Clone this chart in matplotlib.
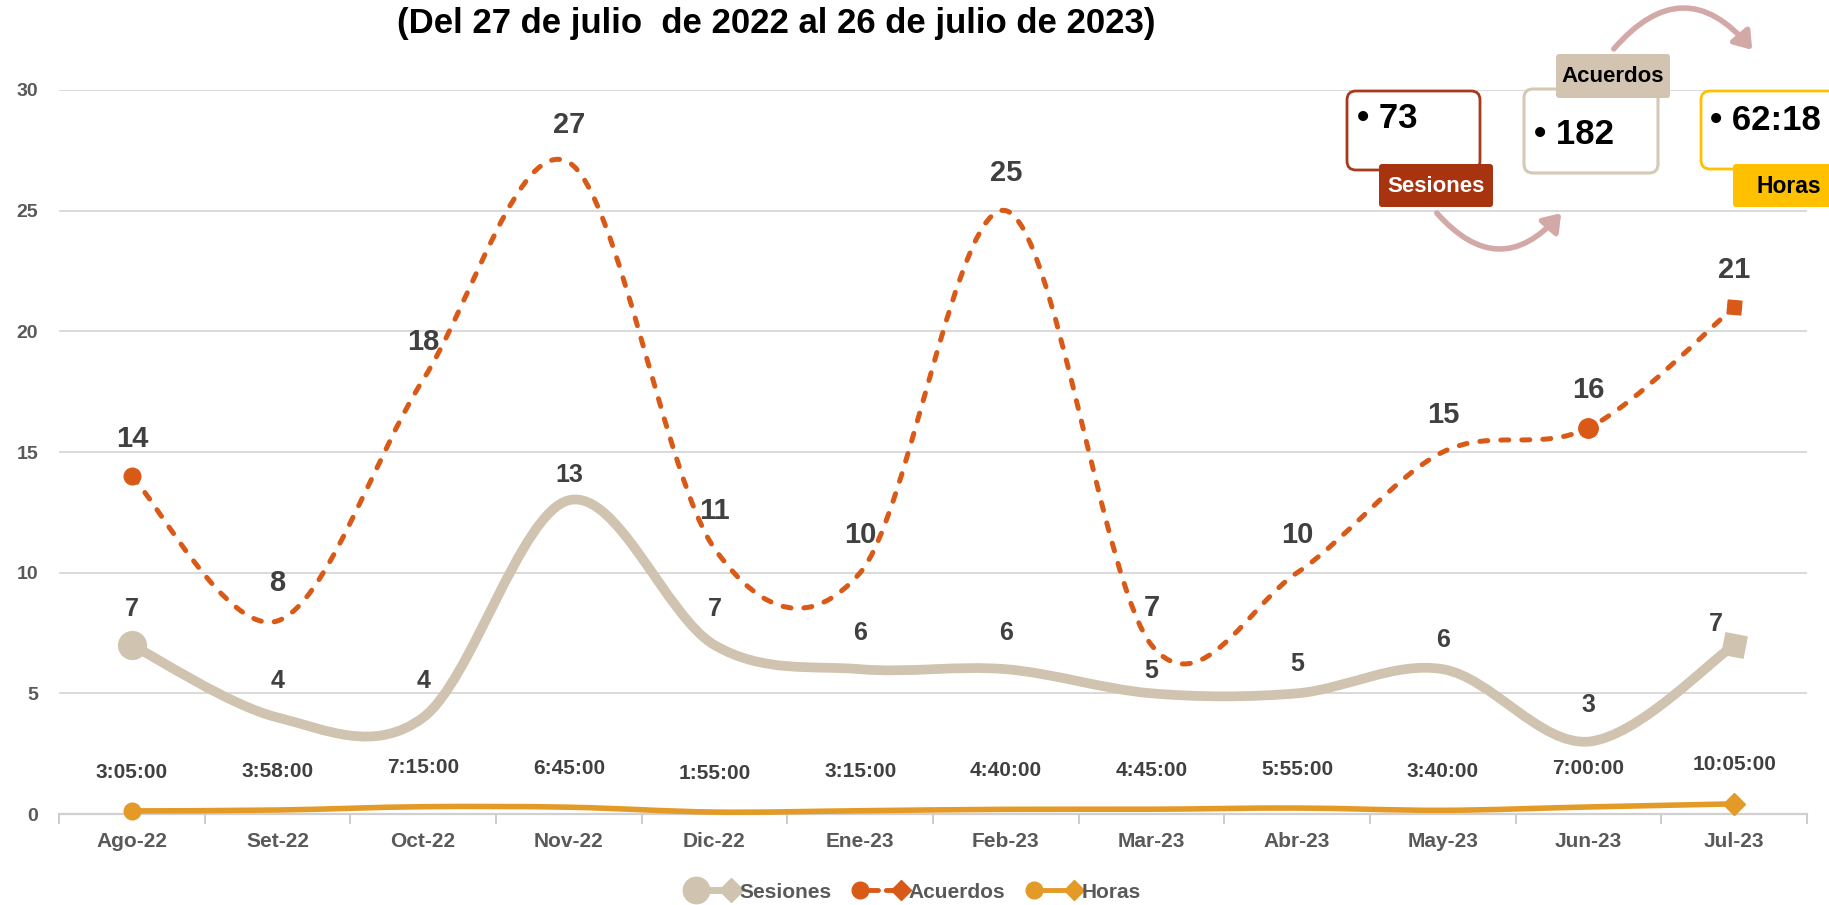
import matplotlib
matplotlib.use("Agg")
import matplotlib.pyplot as plt
import numpy as np
from matplotlib.path import Path
from matplotlib.patches import PathPatch, FancyBboxPatch, FancyArrowPatch
from matplotlib.lines import Line2D
from matplotlib.legend_handler import HandlerBase

# datos
meses = ["Ago-22", "Set-22", "Oct-22", "Nov-22", "Dic-22", "Ene-23",
         "Feb-23", "Mar-23", "Abr-23", "May-23", "Jun-23", "Jul-23"]
sesiones = [7, 4, 4, 13, 7, 6, 6, 5, 5, 6, 3, 7]
acuerdos = [14, 8, 18, 27, 11, 10, 25, 7, 10, 15, 16, 21]
horas = ["3:05:00", "3:58:00", "7:15:00", "6:45:00", "1:55:00", "3:15:00",
         "4:40:00", "4:45:00", "5:55:00", "3:40:00", "7:00:00", "10:05:00"]
y_ticks = [0, 5, 10, 15, 20, 25, 30]
titulo = "(Del 27 de julio  de 2022 al 26 de julio de 2023)"

# colores
C_SES = "#D0C3AF"
C_ACU = "#D95A17"
C_HOR = "#E49A26"
C_TXT = "#404040"
C_EJE = "#595959"

plt.rcParams['font.family'] = ['Liberation Sans', 'DejaVu Sans']
plt.rcParams['font.weight'] = 'bold'


def minutos(t):
    h, m, s = (int(p) for p in t.split(":"))
    return h * 60 + m + s / 60


# horas en fraccion de dia (como Excel)
horas_dias = [minutos(t) / (24 * 60) for t in horas]
tot_min = int(sum(minutos(t) for t in horas))
total_horas = "%d:%02d" % (tot_min // 60, tot_min % 60)


def curva_suave(xs, ys):
    # suavizado tipo Excel (Catmull-Rom como Bezier)
    pts = np.column_stack([xs, ys]).astype(float)
    n = len(pts)
    verts = [pts[0]]
    codes = [Path.MOVETO]
    for i in range(n - 1):
        p0 = pts[max(i - 1, 0)]
        p1 = pts[i]
        p2 = pts[i + 1]
        p3 = pts[min(i + 2, n - 1)]
        verts += [p1 + (p2 - p0) / 6, p2 - (p3 - p1) / 6, p2]
        codes += [Path.CURVE4] * 3
    return Path(verts, codes)


W, H = 1829, 905
fig = plt.figure(figsize=(W / 100, H / 100), dpi=100)
ax = fig.add_axes([59 / W, 1 - 814 / H, 1748 / W, 724 / H])

x = np.arange(len(meses))

ax.add_patch(PathPatch(curva_suave(x, sesiones), fill=False, edgecolor=C_SES,
                       lw=7, capstyle='butt', joinstyle='round', zorder=3))
ax.add_patch(PathPatch(curva_suave(x, acuerdos), fill=False, edgecolor=C_ACU,
                       lw=3.6, linestyle=(0, (1.6, 2.6)), capstyle='round', zorder=4))
ax.add_patch(PathPatch(curva_suave(x, horas_dias), fill=False, edgecolor=C_HOR,
                       lw=4, capstyle='butt', zorder=4, clip_on=False))

# marcadores de inicio / fin
ax.plot(x[0], sesiones[0], 'o', ms=20, color=C_SES, zorder=3)
ax.plot(x[-1], sesiones[-1], marker=(4, 0, 34), ms=22, color=C_SES, zorder=3)
ax.plot(x[0], acuerdos[0], 'o', ms=12, color=C_ACU, zorder=4)
ax.plot(x[10], acuerdos[10], 'o', ms=14, color=C_ACU, zorder=4)
ax.plot(x[-1], acuerdos[-1], marker=(4, 0, 40), ms=14, color=C_ACU, zorder=4)
ax.plot(x[0], horas_dias[0], 'o', ms=12, color=C_HOR, zorder=4, clip_on=False)
ax.plot(x[-1], horas_dias[-1], 'D', ms=11, color=C_HOR, zorder=4, clip_on=False)

# etiquetas de datos
for i, v in enumerate(acuerdos):
    ax.annotate(str(v), (x[i], v), xytext=(0, 27), textcoords='offset points',
                ha='center', va='center', fontsize=21, color=C_TXT, zorder=6)

off_ses = [(0, 26), (0, 26), (0, 26), (0, 18), (0, 26), (0, 26),
           (0, 26), (0, 16), (0, 21), (0, 21), (0, 26), (-13, 15)]
for i, v in enumerate(sesiones):
    ax.annotate(str(v), (x[i], v), xytext=off_ses[i], textcoords='offset points',
                ha='center', va='center', fontsize=18, color=C_TXT, zorder=6)

for i, v in enumerate(horas_dias):
    ax.annotate(horas[i], (x[i], v), xytext=(0, 28), textcoords='offset points',
                ha='center', va='center', fontsize=15, color=C_TXT, zorder=6)

# ejes
ax.set_xlim(-0.5, len(meses) - 0.5)
ax.set_ylim(0, 30)
ax.set_yticks(y_ticks)
ax.set_yticklabels([str(t) for t in y_ticks], fontsize=14, color=C_EJE,
                   fontweight='bold')
ax.set_xticks(x)
ax.set_xticklabels(meses, fontsize=15, color=C_EJE, fontweight='bold')
ax.set_xticks(np.arange(-0.5, len(meses)), minor=True)
ax.tick_params(axis='x', which='major', length=0, pad=13)
ax.tick_params(axis='x', which='minor', length=7, width=1.3, color='#C8C8C8')
ax.tick_params(axis='y', length=0, pad=15)
ax.grid(axis='y', color='#D9D9D9', lw=1.4)
ax.set_axisbelow(True)
for s in ['top', 'right', 'left']:
    ax.spines[s].set_visible(False)
ax.spines['bottom'].set_color('#D0D0D0')
ax.spines['bottom'].set_linewidth(1.6)

fig.text(776 / W, 1 - 33 / H, titulo, ha='center', va='baseline',
         fontsize=25, color='black')


# leyenda: circulo al inicio, diamante al final
class InicioFin(HandlerBase):
    def __init__(self, ms_ini, ms_fin, **kw):
        super().__init__(**kw)
        self.ms_ini = ms_ini
        self.ms_fin = ms_fin

    def create_artists(self, legend, orig, xdescent, ydescent, width, height,
                       fontsize, trans):
        y = height / 2 - ydescent
        x0 = -xdescent + self.ms_ini * 0.5
        x1 = width - xdescent - 4
        linea = Line2D([x0, x1], [y, y], color=orig.get_color(),
                       lw=orig.get_linewidth(), ls=orig.get_linestyle(),
                       dash_capstyle='round')
        ini = Line2D([x0], [y], marker='o', ms=self.ms_ini, color=orig.get_color(), ls='none')
        fin = Line2D([x1], [y], marker='D', ms=self.ms_fin, color=orig.get_color(), ls='none')
        for a in (linea, ini, fin):
            a.set_transform(trans)
        return [linea, ini, fin]


h_ses = Line2D([], [], color=C_SES, lw=5)
h_acu = Line2D([], [], color=C_ACU, lw=3.5, ls=(0, (1.6, 2.6)))
h_hor = Line2D([], [], color=C_HOR, lw=3.5)
fig.legend([h_ses, h_acu, h_hor], ["Sesiones", "Acuerdos", "Horas"],
           handler_map={h_ses: InicioFin(19, 12), h_acu: InicioFin(12, 10),
                        h_hor: InicioFin(12, 10)},
           loc='center', bbox_to_anchor=(912 / W, 1 - 892 / H), ncol=3,
           frameon=False, fontsize=15, handlelength=2.6, handletextpad=0.1,
           columnspacing=1.0, labelcolor=C_EJE)

# cuadro resumen (arriba a la derecha)
tr = fig.dpi_scale_trans


def caja(x0, y0, x1, y1, fc, ec, lw, r):
    p = FancyBboxPatch((x0 / 100, (H - y1) / 100), (x1 - x0) / 100, (y1 - y0) / 100,
                       boxstyle="round,pad=0,rounding_size=%f" % (r / 100),
                       fc=fc, ec=ec, lw=lw, transform=tr, zorder=5)
    fig.patches.append(p)


def texto(xp, yp, s, **kw):
    fig.text(xp / 100, (H - yp) / 100, s, transform=tr, va='center', zorder=7, **kw)


caja(1347, 91, 1480, 170, 'white', '#A8391D', 2, 9)
caja(1524, 89, 1658, 173, 'white', '#D5C9B6', 2.2, 9)
caja(1701, 91, 1850, 169, 'white', '#FFC000', 2, 9)
caja(1379, 164, 1493, 207, '#A8330F', 'none', 0, 3)
caja(1556, 54, 1670, 98, '#D2C4B0', 'none', 0, 3)
caja(1733, 164, 1850, 207, '#FFC000', 'none', 0, 3)

texto(1357, 118, "\u2022 %d" % sum(sesiones), fontsize=25, color='black', ha='left')
texto(1534, 134, "\u2022 %d" % sum(acuerdos), fontsize=25, color='black', ha='left')
texto(1710, 120, "\u2022 " + total_horas, fontsize=25, color='black', ha='left')
texto(1436, 186, "Sesiones", fontsize=16, color='white', ha='center')
texto(1613, 76, "Acuerdos", fontsize=16, color='black', ha='center')
texto(1789, 186, "Horas", fontsize=16.5, color='black', ha='center')

for (xa, ya), (xb, yb), rad in [((1435, 211), (1563, 211), 0.58),
                                ((1612, 51), (1754, 52), -0.6)]:
    fl = FancyArrowPatch((xa / 100, (H - ya) / 100), (xb / 100, (H - yb) / 100),
                         connectionstyle="arc3,rad=%f" % rad,
                         arrowstyle="-|>,head_length=0.5,head_width=0.35",
                         mutation_scale=20, color='#D3A9A8', lw=4,
                         transform=tr, zorder=4)
    fig.patches.append(fl)

fig.savefig("out.png", dpi=100)
